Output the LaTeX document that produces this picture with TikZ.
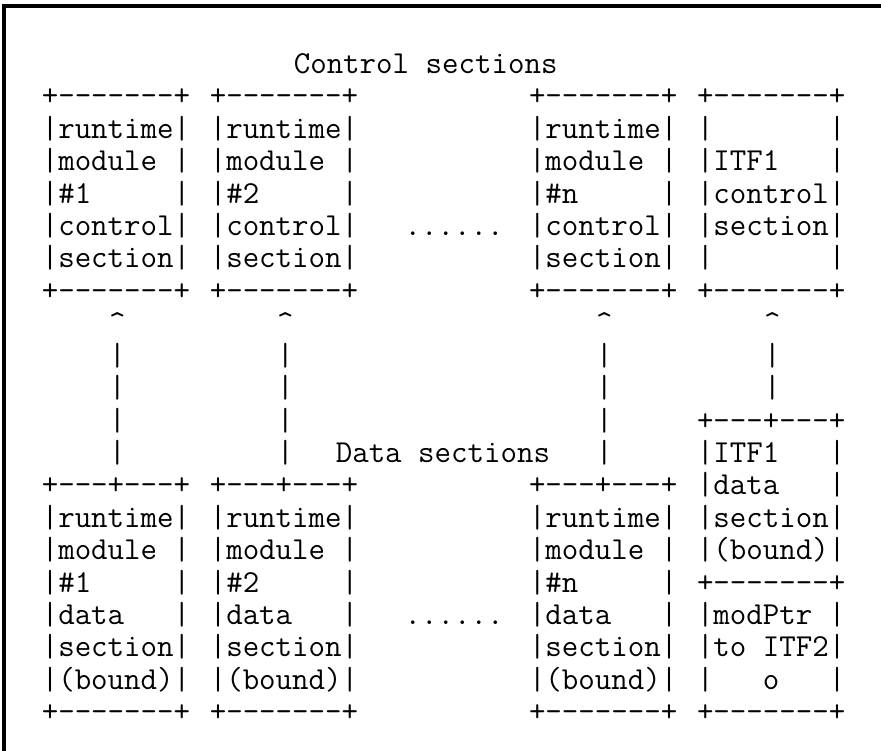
\documentclass[tikz,border=0pt]{standalone}
\newcommand\sep{-\kern0pt}
\newcommand\fullbar{+\sep\sep\sep\sep\sep\sep\sep+}
\newcommand\midbar{+\sep\sep\sep+\sep\sep\sep+}
\newcommand\asciilines[4]{%
  \foreach \ln [count=\i from 0] in {#4}{%
    \node[txt] (#1-\i) at ({\xo+#2*\cw},{\yo+(#3+\i)*\rh}) {\ln};}}
\def\cw{16.8}
\def\xo{41.6}
\def\yo{73.6}
\def\rh{32.4}
\begin{document}
\begin{tikzpicture}[x=1pt,y=-1pt,
  txt/.style={font=\ttfamily\fontsize{32}{32}\selectfont, inner sep=0pt, anchor=base west},
  frameline/.style={line width=4.2pt, black}]
\useasboundingbox (0,0) rectangle (881,751);
% frame
\draw[frameline] (4,751) -- (4,6.3) -- (881,6.3);
% titles
\node[txt] (ctitle) at ({\xo+15*\cw},{\yo}) {Control~sections};
\node[txt] (dtitle) at ({\xo+17.5*\cw},{\yo+12*\rh}) {Data~sections};
% control sections
\asciilines{c1}{0}{1}{{\fullbar},{|runtime|},{|module~|},{|\#1~~~~~|},{|control|},{|section|},{\fullbar}}
\asciilines{c2}{10}{1}{{\fullbar},{|runtime|},{|module~|},{|\#2~~~~~|},{|control|},{|section|},{\fullbar}}
\asciilines{c3}{29}{1}{{\fullbar},{|runtime|},{|module~|},{|\#n~~~~~|},{|control|},{|section|},{\fullbar}}
\asciilines{c4}{39}{1}{{\fullbar},{|~~~~~~~|},{|ITF1~~~|},{|control|},{|section|},{|~~~~~~~|},{\fullbar}}
\node[txt] (cdots) at ({\xo+21.6*\cw},{\yo+5*\rh}) {......};
% connectors
\asciilines{a1}{4}{8}{{\textasciicircum},{|},{|},{|},{|}}
\asciilines{a2}{14}{8}{{\textasciicircum},{|},{|},{|},{|}}
\asciilines{a3}{33}{8}{{\textasciicircum},{|},{|},{|},{|}}
\asciilines{a4}{43}{8}{{\textasciicircum},{|},{|}}
% data sections
\asciilines{d1}{0}{13}{{\midbar},{|runtime|},{|module~|},{|\#1~~~~~|},{|data~~~|},{|section|},{|(bound)|},{\fullbar}}
\asciilines{d2}{10}{13}{{\midbar},{|runtime|},{|module~|},{|\#2~~~~~|},{|data~~~|},{|section|},{|(bound)|},{\fullbar}}
\asciilines{d3}{29}{13}{{\midbar},{|runtime|},{|module~|},{|\#n~~~~~|},{|data~~~|},{|section|},{|(bound)|},{\fullbar}}
\asciilines{d4}{39}{11}{{\midbar},{|ITF1~~~|},{|data~~~|},{|section|},{|(bound)|},{\fullbar},{|modPtr~|},{|to~ITF2|},{|~~~o~~~|},{\fullbar}}
\node[txt] (ddots) at ({\xo+21.6*\cw},{\yo+17*\rh}) {......};
\end{tikzpicture}
\end{document}
